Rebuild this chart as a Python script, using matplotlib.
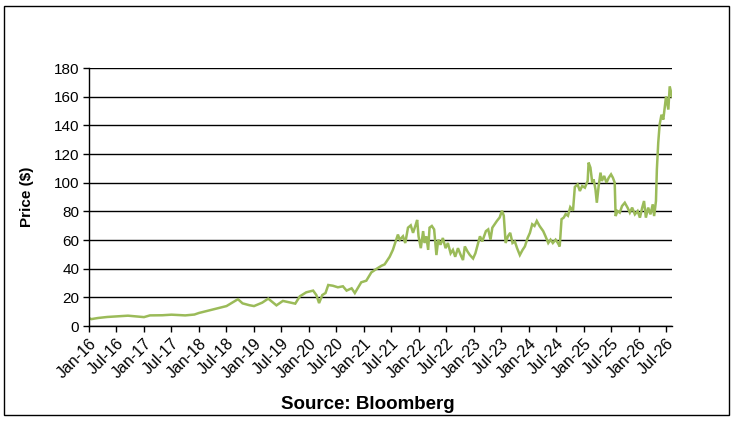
import matplotlib
matplotlib.use("Agg")
import matplotlib.pyplot as plt
import matplotlib.dates as mdates
from matplotlib.patches import Rectangle
import pandas as pd

plt.rcParams['font.family'] = ['Liberation Sans', 'DejaVu Sans']

# time position of each reading, in months since Jan-2016
months = [
    0, 0.5, 2, 4, 6, 8.5, 11, 12, 13.3, 16, 18, 21, 23, 24, 27, 30,
    32.5, 33.5, 35, 36, 37.8, 39.1, 40.9, 42.3, 45, 46, 47.4, 48.9,
    49.6, 50.2, 50.9, 51.6, 52.2, 53.2, 54.3, 55.4, 56.2, 57.3, 58.0,
    59.4, 60.5, 61.6, 62.7, 63.8, 64.5, 65.6, 66.3, 66.9, 67.4, 67.8,
    68.5, 69.0, 69.6, 70.2, 70.7, 71.2, 71.6, 71.9, 72.4, 72.9, 73.2,
    73.6, 74.0, 74.3, 74.8, 75.3, 75.8, 76.2, 76.7, 77.2, 77.8, 78.3,
    78.9, 79.4, 79.9, 80.5, 81.1, 81.6, 82.0, 82.6, 83.1, 83.8, 84.3,
    84.9, 85.3, 85.8, 86.6, 87.1, 87.6, 88.0, 88.5, 89.0, 89.6, 90.1,
    90.5, 90.9, 91.4, 91.9, 92.4, 92.9, 93.4, 94.0, 94.6, 95.1, 95.7,
    96.2, 96.7, 97.2, 97.7, 98.3, 99.1, 99.6, 100.2, 100.7, 101.2,
    101.8, 102.3, 102.7, 103.1, 103.6, 104.0, 104.5, 105.0, 105.6,
    106.0, 106.6, 107.1, 107.6, 108.2, 108.8, 109.0, 109.4, 109.8,
    110.1, 110.5, 110.8, 111.2, 111.6, 111.9, 112.4, 112.9, 113.4,
    113.9, 114.3, 114.7, 114.9, 115.3, 115.8, 116.3, 116.9, 117.5,
    118.0, 118.5, 119.1, 119.7, 120.2, 120.7, 121.1, 121.5, 122.0,
    122.5, 123.0, 123.3, 123.7, 123.9, 124.2, 124.5, 124.9, 125.3,
    125.9, 126.4, 126.7, 127.2,
]
prices = [
    5.5, 4.8, 5.6, 6.3, 6.7, 7.2, 6.5, 6.2, 7.4, 7.5, 7.9, 7.4, 8.0, 9.1, 11.5, 13.9,
    18.7, 15.8, 14.5, 13.9, 16.3, 19.1, 14.4, 17.5, 15.6, 20.7, 23.5, 24.7,
    21.6, 16.0, 21.6, 23.0, 28.6, 28.1, 27.0, 27.7, 24.7, 26.3, 23.0,
    30.5, 31.6, 37.4, 39.8, 42.0, 43.0, 48.3, 53.1, 59.0, 63.8, 60.2,
    62.6, 57.9, 68.6, 70.2, 65.0, 69.8, 74.0, 62.6, 54.3, 66.2, 57.9,
    62.6, 53.1, 68.6, 69.8, 67.4, 49.5, 60.2, 56.7, 61.4, 54.3, 57.9,
    50.7, 53.1, 48.3, 54.3, 49.5, 46.0, 55.5, 51.9, 49.5, 47.1, 50.7,
    57.9, 62.6, 59.0, 66.2, 67.4, 60.2, 68.6, 71.0, 73.3, 75.7, 80.5,
    76.9, 57.9, 62.6, 65.0, 57.9, 59.0, 54.3, 49.5, 53.1, 55.5, 61.4,
    65.0, 71.0, 69.8, 73.3, 69.8, 66.2, 62.6, 57.9, 60.2, 57.9,
    60.2, 57.9, 55.5, 74.5, 75.7, 78.1, 76.9, 82.9, 80.5,
    97.0, 98.8, 94.2, 97.7, 96.5, 101.2, 114.0, 110.5, 100.0,
    102.3, 95.3, 86.0, 97.7, 107.0, 101.2, 104.7, 100.0, 103.5,
    105.8, 103.5, 100.0, 76.7, 80.2, 79.1, 83.7, 86.0, 82.6,
    79.1, 82.6, 77.9, 80.2, 75.6, 82.6, 87.2, 75.6, 82.6,
    77.9, 84.9, 76.7, 87.2, 109.3, 128.0, 140.5, 147.4, 144.0,
    160.2, 151.0, 167.2, 160.2,
]
y_ticks = [0, 20, 40, 60, 80, 100, 120, 140, 160, 180]

start = pd.Timestamp("2016-01-01")
x = [start + pd.Timedelta(days=m * 30.4375) for m in months]

fig = plt.figure(figsize=(7.34, 4.23), dpi=100)
ax = fig.add_axes([89/734, 1-326/423, (672-89)/734, (326-68)/423])

ax.plot(x, prices, color='#9BBB59', linewidth=1.8, solid_joinstyle='miter')

ax.set_ylim(0, 180)
ax.set_yticks(y_ticks)
ax.set_xlim(start, start + pd.Timedelta(days=127.2 * 30.4375))
ax.xaxis.set_major_locator(mdates.MonthLocator(bymonth=[1, 7]))
ax.xaxis.set_major_formatter(mdates.DateFormatter('%b-%y'))

ax.grid(axis='y', color='black', linewidth=1)
ax.set_axisbelow(True)
for s in ['top', 'right']:
    ax.spines[s].set_visible(False)
for s in ['left', 'bottom']:
    ax.spines[s].set_color('black')
    ax.spines[s].set_linewidth(1)

ax.tick_params(axis='y', direction='out', length=4, width=1, labelsize=11, pad=3)
ax.tick_params(axis='x', direction='out', length=4, width=1, labelsize=11.5, pad=3)
for lbl in ax.get_xticklabels():
    lbl.set_rotation(45)
    lbl.set_ha('right')
    lbl.set_rotation_mode('anchor')

ax.set_ylabel('Price ($)', fontsize=11, fontweight='bold')
ax.yaxis.set_label_coords(-55/583, 0.5)

fig.text(368/734, 1-404/423, 'Source: Bloomberg', ha='center', va='center',
         fontsize=13.5, fontweight='bold')

fig.patches.append(Rectangle((4/734, 1-415/423), (729-4)/734, (415-6)/423,
                             transform=fig.transFigure, fill=False,
                             edgecolor='black', linewidth=1))

fig.savefig('out.png', dpi=100)
